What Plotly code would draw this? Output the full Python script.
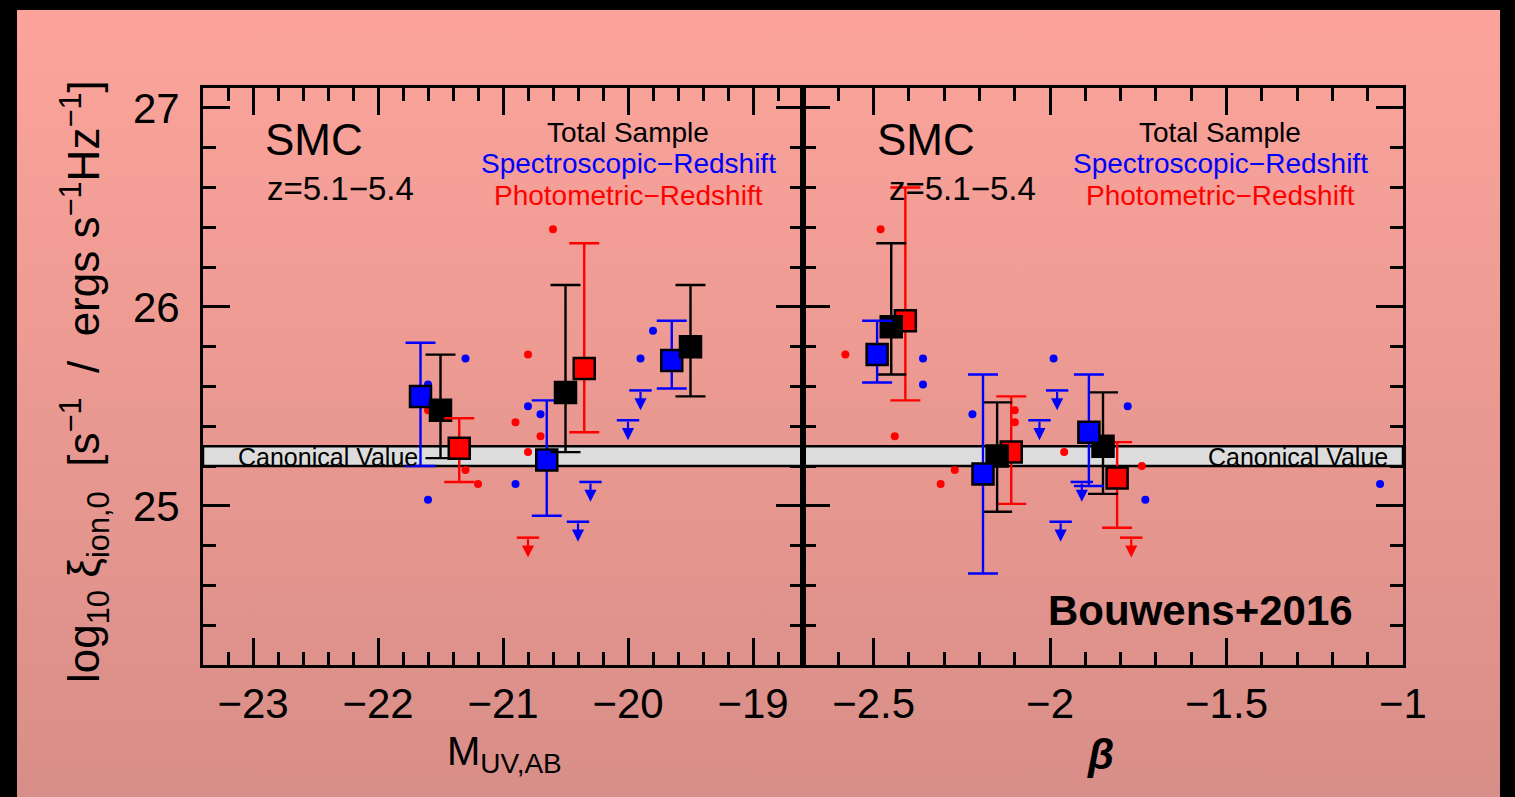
import base64
import plotly.graph_objects as go

W, H = 1515, 797

# ---------------- data ----------------
# Left panel: M_UV,AB
muv_spec_x = [-21.66, -20.65, -19.65]
muv_spec_y = [25.55, 25.23, 25.73]
muv_spec_up = [0.27, 0.30, 0.20]
muv_spec_dn = [0.35, 0.28, 0.14]

muv_tot_x = [-21.50, -20.50, -19.50]
muv_tot_y = [25.48, 25.57, 25.80]
muv_tot_up = [0.28, 0.54, 0.31]
muv_tot_dn = [0.24, 0.30, 0.25]

muv_phot_x = [-21.35, -20.35]
muv_phot_y = [25.29, 25.69]
muv_phot_up = [0.15, 0.63]
muv_phot_dn = [0.17, 0.32]

muv_bdot_x = [-21.30, -21.60, -20.80, -20.70, -20.90, -21.60, -19.80, -19.90]
muv_bdot_y = [25.74, 25.61, 25.50, 25.46, 25.11, 25.03, 25.88, 25.74]
muv_rdot_x = [-20.60, -20.80, -21.60, -20.90, -20.70, -20.80, -21.30, -21.20]
muv_rdot_y = [26.39, 25.76, 25.48, 25.42, 25.35, 25.27, 25.18, 25.11]
muv_blim_x = [-20.30, -20.40, -19.90, -20.00]
muv_blim_y = [25.12, 24.92, 25.58, 25.43]
muv_rlim_x = [-20.80]
muv_rlim_y = [24.84]

# Right panel: beta
beta_spec_x = [-2.49, -2.19, -1.89]
beta_spec_y = [25.76, 25.16, 25.37]
beta_spec_up = [0.17, 0.50, 0.29]
beta_spec_dn = [0.14, 0.50, 0.27]

beta_tot_x = [-2.45, -2.15, -1.85]
beta_tot_y = [25.90, 25.25, 25.30]
beta_tot_up = [0.42, 0.27, 0.27]
beta_tot_dn = [0.24, 0.28, 0.24]

beta_phot_x = [-2.41, -2.11, -1.81]
beta_phot_y = [25.93, 25.27, 25.14]
beta_phot_up = [0.67, 0.28, 0.18]
beta_phot_dn = [0.40, 0.26, 0.25]

beta_bdot_x = [-2.36, -2.36, -2.22, -1.99, -1.78, -1.73, -1.065]
beta_bdot_y = [25.74, 25.61, 25.46, 25.74, 25.50, 25.03, 25.11]
beta_rdot_x = [-2.48, -2.58, -2.44, -2.27, -2.31, -2.10, -2.10, -1.96, -1.74]
beta_rdot_y = [26.39, 25.76, 25.35, 25.18, 25.11, 25.48, 25.42, 25.27, 25.20]
beta_blim_x = [-2.03, -1.98, -1.91, -1.97]
beta_blim_y = [25.43, 25.58, 25.12, 24.92]
beta_rlim_x = [-1.77]
beta_rlim_y = [24.84]

canon_lo, canon_hi = 25.2, 25.3

xticks_beta = [-2.5, -2.0, -1.5, -1.0]

# ---------------- styling ----------------
BLUE = "#0000FF"
RED = "#FF0000"
BLACK = "#000000"
FONT = "Liberation Sans, Arial, sans-serif"
ARROW_LEN = 0.1
NB = "\u00a0"


def px(x):
    return x / W


def py(y):
    return 1 - y / H


fig = go.Figure()


def add_dots(xs, ys, color, xa, ya):
    fig.add_trace(go.Scatter(x=xs, y=ys, mode="markers", xaxis=xa, yaxis=ya,
                             marker=dict(symbol="circle", size=8, color=color,
                                         line=dict(width=0)),
                             showlegend=False, hoverinfo="skip"))


def add_limits(xs, ys, color, xa, ya):
    fig.add_trace(go.Scatter(x=xs, y=ys, mode="markers", xaxis=xa, yaxis=ya,
                             marker=dict(symbol="line-ew", size=16, color=color,
                                         line=dict(width=2.5, color=color)),
                             showlegend=False, hoverinfo="skip"))
    xr = "x" if xa == "x" else "x2"
    yr = "y" if ya == "y" else "y2"
    for xv, yv in zip(xs, ys):
        fig.add_annotation(x=xv, y=yv - ARROW_LEN, ax=xv, ay=yv,
                           xref=xr, yref=yr, axref=xr, ayref=yr,
                           showarrow=True, arrowhead=2, arrowsize=1.1,
                           arrowwidth=2.2, arrowcolor=color, text="",
                           standoff=0, startstandoff=0)


def add_bins(xs, ys, up, dn, color, xa, ya):
    fig.add_trace(go.Scatter(x=xs, y=ys, mode="markers", xaxis=xa, yaxis=ya,
                             error_y=dict(type="data", array=up, arrayminus=dn,
                                          color=color, thickness=2.4, width=15,
                                          symmetric=False),
                             marker=dict(symbol="square", size=21, color=color,
                                         line=dict(width=2.5, color=BLACK)),
                             showlegend=False, hoverinfo="skip"))


# left panel
add_dots(muv_bdot_x, muv_bdot_y, BLUE, "x", "y")
add_dots(muv_rdot_x, muv_rdot_y, RED, "x", "y")
add_limits(muv_blim_x, muv_blim_y, BLUE, "x", "y")
add_limits(muv_rlim_x, muv_rlim_y, RED, "x", "y")
add_bins(muv_spec_x, muv_spec_y, muv_spec_up, muv_spec_dn, BLUE, "x", "y")
add_bins(muv_tot_x, muv_tot_y, muv_tot_up, muv_tot_dn, BLACK, "x", "y")
add_bins(muv_phot_x, muv_phot_y, muv_phot_up, muv_phot_dn, RED, "x", "y")

# right panel
add_dots(beta_bdot_x, beta_bdot_y, BLUE, "x2", "y2")
add_dots(beta_rdot_x, beta_rdot_y, RED, "x2", "y2")
add_limits(beta_blim_x, beta_blim_y, BLUE, "x2", "y2")
add_limits(beta_rlim_x, beta_rlim_y, RED, "x2", "y2")
add_bins(beta_phot_x, beta_phot_y, beta_phot_up, beta_phot_dn, RED, "x2", "y2")
add_bins(beta_tot_x, beta_tot_y, beta_tot_up, beta_tot_dn, BLACK, "x2", "y2")
add_bins(beta_spec_x, beta_spec_y, beta_spec_up, beta_spec_dn, BLUE, "x2", "y2")

# canonical band
for xr, yr in (("x", "y"), ("x2", "y2")):
    fig.add_shape(type="rect", xref=f"{xr} domain", yref=yr, x0=0, x1=1,
                  y0=canon_lo, y1=canon_hi, fillcolor="#DCDCDC",
                  line=dict(color=BLACK, width=2.5), layer="below")

# background gradient (pink) as an svg image
svg = ('<svg xmlns="http://www.w3.org/2000/svg" width="100" height="100" '
       'preserveAspectRatio="none" viewBox="0 0 100 100">'
       '<defs><linearGradient id="g" x1="0" y1="0" x2="0" y2="1">'
       '<stop offset="0" stop-color="#FCA49B"/>'
       '<stop offset="1" stop-color="#D88E88"/></linearGradient></defs>'
       '<rect x="0" y="0" width="100" height="100" fill="url(#g)"/></svg>')
src = "data:image/svg+xml;base64," + base64.b64encode(svg.encode()).decode()
fig.add_layout_image(source=src, xref="paper", yref="paper",
                     x=px(17), y=py(10), sizex=px(1500) - px(17),
                     sizey=py(10) - py(H), xanchor="left", yanchor="top",
                     sizing="stretch", layer="below")

# axes
common = dict(showline=True, linecolor=BLACK, linewidth=3, mirror="ticks",
              ticks="inside", ticklen=27, tickwidth=2.5, tickcolor=BLACK,
              showgrid=False, zeroline=False, automargin=False,
              tickfont=dict(family=FONT, size=42, color=BLACK))

ydom = [py(665), py(88)]
fig.update_layout(
    template="none",
    width=W, height=H, autosize=False,
    margin=dict(l=0, r=0, t=0, b=0, pad=0, autoexpand=False),
    paper_bgcolor="black", plot_bgcolor="rgba(0,0,0,0)",
    showlegend=False,
    xaxis=dict(domain=[px(203), px(803)], range=[-23.4, -18.6], dtick=1,
               tick0=-23, anchor="y", ticklabelstandoff=0,
               minor=dict(ticks="inside", ticklen=13, tickwidth=2.5,
                          tickcolor=BLACK, dtick=0.2, tick0=-23), **common),
    yaxis=dict(domain=ydom, range=[24.2, 27.1], dtick=1, tick0=25,
               anchor="x", ticklabelstandoff=12,
               minor=dict(ticks="inside", ticklen=13, tickwidth=2.5,
                          tickcolor=BLACK, dtick=0.2, tick0=25), **common),
    xaxis2=dict(domain=[px(803), px(1403)], range=[-2.7, -1.0],
                tickvals=xticks_beta, anchor="y2", ticklabelstandoff=0,
                minor=dict(ticks="inside", ticklen=13, tickwidth=2.5,
                           tickcolor=BLACK, dtick=0.1, tick0=-2.5), **common),
    yaxis2=dict(domain=ydom, range=[24.2, 27.1], dtick=1, tick0=25,
                anchor="x2", showticklabels=False,
                minor=dict(ticks="inside", ticklen=13, tickwidth=2.5,
                           tickcolor=BLACK, dtick=0.2, tick0=25), **common),
)


def text(s, x, y, size, color=BLACK, xanchor="center", bold=False, angle=0,
         family=FONT):
    fig.add_annotation(text=f"<b>{s}</b>" if bold else s, x=px(x), y=py(y),
                       xref="paper", yref="paper", showarrow=False,
                       xanchor=xanchor, yanchor="middle", textangle=angle,
                       font=dict(family=family, size=size, color=color))


for smc_x, z_x, leg_x in [(314, 340, 628), (926, 962, 1220)]:
    text("SMC", smc_x, 140, 44)
    text("z=5.1−5.4", z_x, 188, 33)
    text("Total Sample", leg_x, 133, 28)
    text("Spectroscopic−Redshift", leg_x, 163, 28, BLUE)
    text("Photometric−Redshift", leg_x, 196, 28, RED)

text("Canonical Value", 236, 457, 25, xanchor="left")
text("Canonical Value", 1390, 457, 25, xanchor="right")
text("Bouwens+2016", 1200, 610, 42, bold=True)

text("M<sub>UV,AB</sub>", 504, 754, 40)
text("<i>β</i>", 1100, 754, 42, bold=True)
ytitle = (f"log<sub>10</sub>{NB}ξ<sub>ion,0</sub>{NB}{NB}[s<sup>−1</sup>{NB}{NB}/{NB}{NB}"
          f"ergs{NB}s<sup>−1</sup>Hz<sup>−1</sup>]")
text(ytitle, 84, 382, 44, angle=-90)

fig.write_html("out.html", config={"responsive": False})
